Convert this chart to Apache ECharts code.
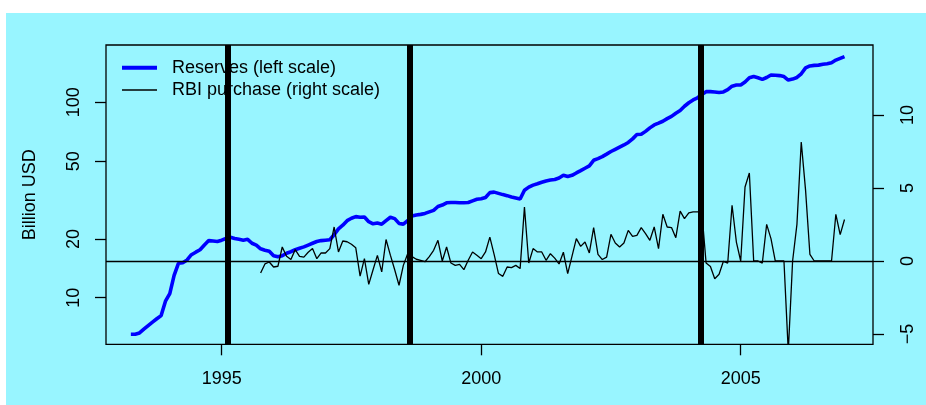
<!DOCTYPE html>
<html>
<head>
<meta charset="utf-8">
<script src="https://cdn.jsdelivr.net/npm/echarts@6/dist/echarts.min.js"></script>
<style>
html, body { margin: 0; padding: 0; background: #fff; }
#chart { position: absolute; left: 6px; top: 13px; width: 920px; height: 392px; background: #98F5FF; }
</style>
</head>
<body>
<div id="chart"></div>
<script>
// monthly reserves, billion USD, from Apr 1993
const reservesStart = 1993.25
const reserves = [6.5, 6.5, 6.6, 6.9, 7.2, 7.5, 7.8, 8.1, 9.6, 10.5, 13.0, 15.0, 15.1, 15.6, 16.6, 17.1, 17.6, 18.6, 19.6, 19.5, 19.4, 19.7, 20.1, 20.4,
    20.1, 19.9, 19.7, 19.9, 19.0, 18.6, 17.8, 17.5, 17.3, 16.4, 16.2, 16.4, 16.9, 17.2, 17.6, 17.9, 18.2, 18.6, 19.0, 19.4, 19.6, 19.7, 19.8, 21.0,
    22.5, 23.5, 24.8, 25.5, 26.0, 25.8, 25.9, 24.5, 23.9, 24.1, 23.8, 24.8, 25.8, 25.4, 24.0, 23.8, 24.8, 26.2, 26.5, 26.7,
    27.0, 27.5, 28.0, 29.3, 29.8, 30.6, 30.7, 30.7, 30.6, 30.6, 30.7, 31.3, 31.9, 32.1, 32.6, 34.5, 34.7, 34.2, 33.7, 33.3, 32.8, 32.4, 32.0, 35.5,
    36.8, 37.7, 38.3, 39.0, 39.6, 40.0, 40.3, 41.0, 42.3, 41.7, 42.3, 43.5, 44.7, 46.0, 47.3, 50.5, 51.5, 52.7, 54.3, 56.0, 57.5, 59.0, 60.5, 62.3,
    65.0, 68.5, 68.6, 71.0, 74.0, 76.6, 78.2, 80.0, 82.5, 84.7, 87.9, 90.8, 95.5, 99.5, 102.8, 105.5, 109.5, 113.4, 113.4, 113.0, 112.3,
    113.0, 116.0, 121.0, 122.6, 122.6, 127.0, 133.5, 135.5, 133.5, 131.1, 134.0, 137.9, 137.5, 137.0, 135.5, 130.0, 131.5, 134.0, 140.0, 150.0,
    153.5, 154.5, 155.0, 156.5, 157.5, 159.5, 164.5, 168.0, 171.5]

// monthly RBI net purchase, from Oct 1995
const rbiStart = 1995.75
const rbiPurchase = [-0.82, -0.2, -0.07, -0.41, -0.36, 0.96, 0.32, 0.1, 0.78, 0.32, 0.27, 0.6,
    0.85, 0.16, 0.55, 0.55, 0.85, 2.33, 0.62, 1.37, 1.32, 1.15, 0.9, -1.03,
    0.16, -1.6, -0.6, 0.39, -0.75, 1.47, 0.4, -0.6, -1.66, -0.3, 0.5, 0.3,
    0.12, 0.05, -0.05, 0.3, 0.73, 1.42, 0, 0.96, -0.14, -0.3, -0.23, -0.59,
    0.05, 0.62, 0.4, 0.16, 0.62, 1.64, 0.44, -0.86, -1.05, -0.41, -0.45, -0.3,
    -0.52, 3.7, -0.14, 0.85, 0.62, 0.62, 0.05, 0.5, 0.2, -0.2, 0.6, -0.86,
    0.33, 1.53, 1.0, 1.3, 0.55, 2.29, 0.46, 0.1, 0.27, 1.83, 1.23, 0.96,
    1.23, 2.1, 1.69, 1.76, 2.29, 1.88, 1.42, 2.33, 0.85, 3.2, 2.33, 2.29,
    1.6, 3.42, 2.9, 3.29, 3.36, 3.36, 3.4, -0.14, -0.38, -1.21, -0.91, -0.02,
    -0.14, 3.82, 1.3, 0, 5.07, 6.03, 0, 0, -0.14, 2.51, 1.53, 0,
    0, 0, -6.2, 0, 2.51, 8.15, 4.84, 0.46, 0, 0, 0, 0,
    0, 3.2, 1.81, 2.84]

const eventLines = [1995.12, 1998.63, 2004.23]
const yearTicks = [1995, 2000, 2005]
const leftTicks = [10, 20, 50, 100]
const rightTicks = [-5, 0, 5, 10]

const FONT = '"Liberation Sans", Arial, Helvetica, sans-serif'

function monthly(start, values) {
    return values.map((v, i) => [start + i / 12, v])
}

let myChart = echarts.init(document.getElementById('chart'))
let logTicks = leftTicks.map(v => Math.log10(v))
let tickLine = { color: '#000', width: 1.3 }

let option = {
    animation: false,
    textStyle: { fontFamily: FONT },
    grid: {
        left: 100, right: 53, top: 32, bottom: 60.7,
        show: true, borderColor: '#000', borderWidth: 1.3, backgroundColor: 'transparent'
    },
    legend: [{
        data: ['Reserves (left scale)'],
        left: 116, top: 45.7, padding: 0,
        icon: 'rect', itemWidth: 35, itemHeight: 4,
        selectedMode: false,
        textStyle: { color: '#000', fontSize: 18, fontFamily: FONT, padding: [0, 0, 0, 10] }
    }, {
        data: ['RBI purchase (right scale)'],
        left: 116, top: 68, padding: 0,
        icon: 'rect', itemWidth: 35, itemHeight: 1.3,
        selectedMode: false,
        textStyle: { color: '#000', fontSize: 18, fontFamily: FONT, padding: [0, 0, 0, 10] }
    }],
    xAxis: {
        type: 'value', min: 1992.771, max: 2007.549,
        axisLine: { show: false, onZero: false },
        splitLine: { show: false },
        axisTick: { customValues: yearTicks, length: 11, lineStyle: tickLine },
        axisLabel: { customValues: yearTicks, color: '#000', fontSize: 18, margin: 26, formatter: v => String(v) }
    },
    yAxis: [{
        type: 'log', logBase: 10, min: 5.775, max: 196.5, show: false
    }, {
        type: 'value', position: 'right', min: -5.705, max: 14.795,
        axisLine: { show: false, onZero: false },
        splitLine: { show: false },
        axisTick: { customValues: rightTicks, length: 11, lineStyle: tickLine },
        axisLabel: { customValues: rightTicks, rotate: 90, color: '#000', fontSize: 18, margin: 26,
            formatter: v => String(v).replace('-', '\u2212') }
    }, {
        type: 'value', position: 'left', min: Math.log10(5.775), max: Math.log10(196.5),
        name: 'Billion USD', nameLocation: 'middle', nameRotate: 90, nameGap: 67,
        nameTextStyle: { color: '#000', fontSize: 18, fontFamily: FONT },
        axisLine: { show: false, onZero: false },
        splitLine: { show: false },
        axisTick: { customValues: logTicks, length: 11, lineStyle: tickLine },
        axisLabel: { customValues: logTicks, rotate: 90, color: '#000', fontSize: 18, margin: 23,
            formatter: v => String(Math.round(Math.pow(10, v))) }
    }],
    series: [{
        name: 'Reserves (left scale)',
        type: 'line', yAxisIndex: 0,
        data: monthly(reservesStart, reserves),
        symbol: 'none', color: '#0000FF',
        lineStyle: { color: '#0000FF', width: 3.6 },
        markLine: {
            silent: true, symbol: ['none', 'none'],
            label: { show: false }, emphasis: { disabled: true },
            lineStyle: { color: '#000', width: 6, type: 'solid' },
            data: eventLines.map(x => ({ xAxis: x }))
        }
    }, {
        name: 'RBI purchase (right scale)',
        type: 'line', yAxisIndex: 1,
        data: monthly(rbiStart, rbiPurchase),
        symbol: 'none', color: '#000',
        lineStyle: { color: '#000', width: 1.3 },
        markLine: {
            silent: true, symbol: ['none', 'none'],
            label: { show: false }, emphasis: { disabled: true },
            lineStyle: { color: '#000', width: 1.3, type: 'solid' },
            data: [{ yAxis: 0 }]
        }
    }]
}
myChart.setOption(option)
</script>
</body>
</html>
